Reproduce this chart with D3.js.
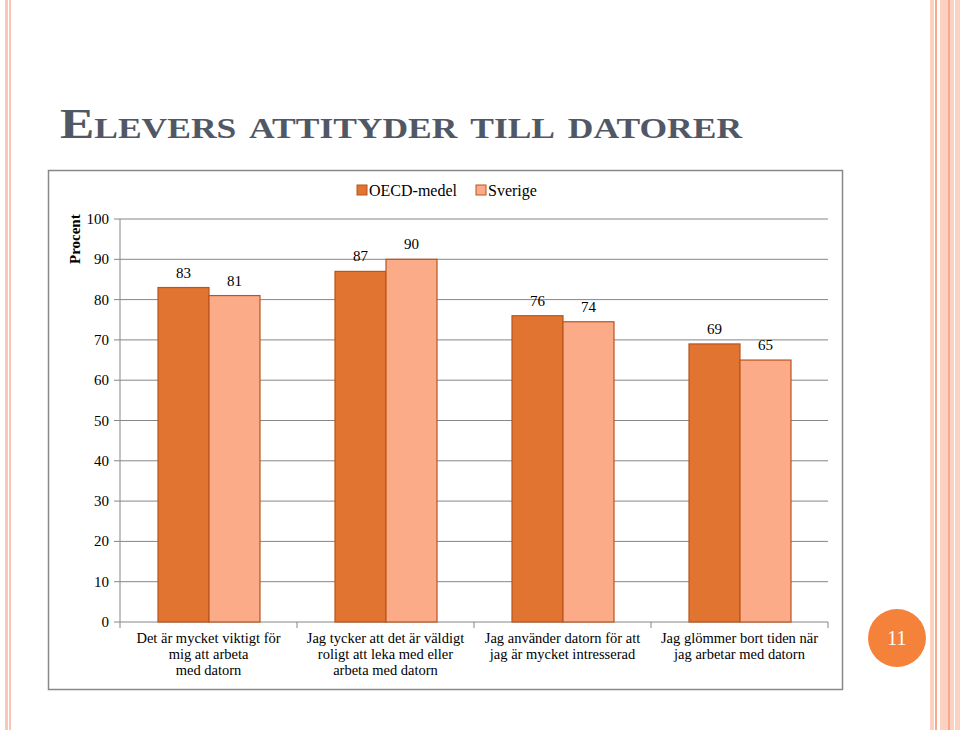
<!DOCTYPE html>
<html><head><meta charset="utf-8">
<script src="https://cdn.jsdelivr.net/npm/d3@7"></script>
<style>body{margin:0;background:#fff}</style>
</head><body>
<svg id="c" width="960" height="730"></svg>
<script>
const categories = [
  ["Det är mycket viktigt för", "mig att arbeta", "med datorn"],
  ["Jag tycker att det är väldigt", "roligt att leka med eller", "arbeta med datorn"],
  ["Jag använder datorn för att", "jag är mycket intresserad"],
  ["Jag glömmer bort tiden när", "jag arbetar med datorn"]
];
const seriesNames = ["OECD-medel", "Sverige"];
const oecd = [83, 87, 76, 69];
const sverige = [81, 90, 74.5, 65];
const labels = [[83, 87, 76, 69], [81, 90, 74, 65]];
const yTicks = d3.range(0, 101, 10);
const colors = ["#e07430", "#fbab88"];

const svg = d3.select("#c");
const serif = "'Liberation Serif','DejaVu Serif',serif";

// slide decoration
svg.append("rect").attr("x", 5).attr("y", 0).attr("width", 3).attr("height", 730).attr("fill", "#f9c7b3");
svg.append("rect").attr("x", 9).attr("y", 0).attr("width", 2).attr("height", 730).attr("fill", "#f9c7b3");
[[930,4,"#fbd2c2"],[935,2,"#f7a98a"],[940,14,"#fbd2c2"],[948,2,"#f7a98a"],[955,5,"#fbd2c2"]].forEach(([x,w,c]) =>
  svg.append("rect").attr("x", x).attr("y", 0).attr("width", w).attr("height", 730).attr("fill", c));

svg.append("text").attr("x", 60).attr("y", 138)
  .attr("font-family", serif).attr("font-weight", "bold").attr("font-size", 42)
  .attr("fill", "#515865").style("font-variant", "small-caps")
  .attr("textLength", 682).attr("lengthAdjust", "spacingAndGlyphs")
  .text("Elevers attityder till datorer");

svg.append("circle").attr("cx", 897).attr("cy", 638).attr("r", 29).attr("fill", "#f4823a");
svg.append("text").attr("x", 897).attr("y", 645).attr("text-anchor", "middle")
  .attr("font-family", serif).attr("font-size", 20).attr("fill", "#fff").text("11");

// chart frame
svg.append("rect").attr("x", 48.5).attr("y", 170.5).attr("width", 794).attr("height", 519)
  .attr("fill", "#fff").attr("stroke", "#888").attr("stroke-width", 1.5);

const x0 = d3.scaleBand().domain(d3.range(categories.length)).range([120, 828]);
const y = d3.scaleLinear().domain([0, 100]).range([622, 219]);
const barW = 51, off = 38;

const g = svg.append("g");
g.selectAll("line.grid").data(yTicks).join("line")
  .attr("x1", 114).attr("x2", 828).attr("y1", d => y(d)).attr("y2", d => y(d))
  .attr("stroke", "#868686").attr("stroke-width", 1);
g.append("line").attr("x1", 120).attr("x2", 120).attr("y1", y(100)).attr("y2", y(0)).attr("stroke", "#868686");
g.selectAll("text.yt").data(yTicks).join("text")
  .attr("x", 109).attr("y", d => y(d) + 5).attr("text-anchor", "end")
  .attr("font-family", serif).attr("font-size", 15).text(d => d);
x0.domain().concat([4]).forEach(i => {
  const xx = i < 4 ? x0(i) : 828;
  g.append("line").attr("x1", xx).attr("x2", xx).attr("y1", y(0)).attr("y2", y(0) + 6).attr("stroke", "#868686");
});

g.append("text").attr("transform", `translate(80,${y(95)}) rotate(-90)`).attr("text-anchor", "middle")
  .attr("font-family", serif).attr("font-weight", "bold").attr("font-size", 15).text("Procent");

[oecd, sverige].forEach((vals, s) => {
  g.selectAll(null).data(vals).join("rect")
    .attr("x", (d, i) => x0(i) + off + s * barW).attr("width", barW)
    .attr("y", d => y(d)).attr("height", d => y(0) - y(d))
    .attr("fill", colors[s]).attr("stroke", "#b9551f").attr("stroke-width", 1.2);
  g.selectAll(null).data(labels[s]).join("text")
    .attr("x", (d, i) => x0(i) + off + s * barW + barW / 2)
    .attr("y", (d, i) => y(vals[i]) - 10).attr("text-anchor", "middle")
    .attr("font-family", serif).attr("font-size", 15).text(d => d);
});

categories.forEach((lines, i) => {
  lines.forEach((t, k) => g.append("text")
    .attr("x", x0(i) + x0.bandwidth() / 2).attr("y", 643 + k * 16).attr("text-anchor", "middle")
    .attr("font-family", serif).attr("font-size", 14.5).text(t));
});

// legend
const lg = svg.append("g").attr("transform", "translate(357,185)");
seriesNames.forEach((n, i) => {
  const xo = i * 119;
  lg.append("rect").attr("x", xo).attr("y", 0).attr("width", 10).attr("height", 10)
    .attr("fill", colors[i]).attr("stroke", "#b9551f");
  lg.append("text").attr("x", xo + 12).attr("y", 11).attr("font-family", serif).attr("font-size", 16).text(n);
});
</script>
</body></html>
